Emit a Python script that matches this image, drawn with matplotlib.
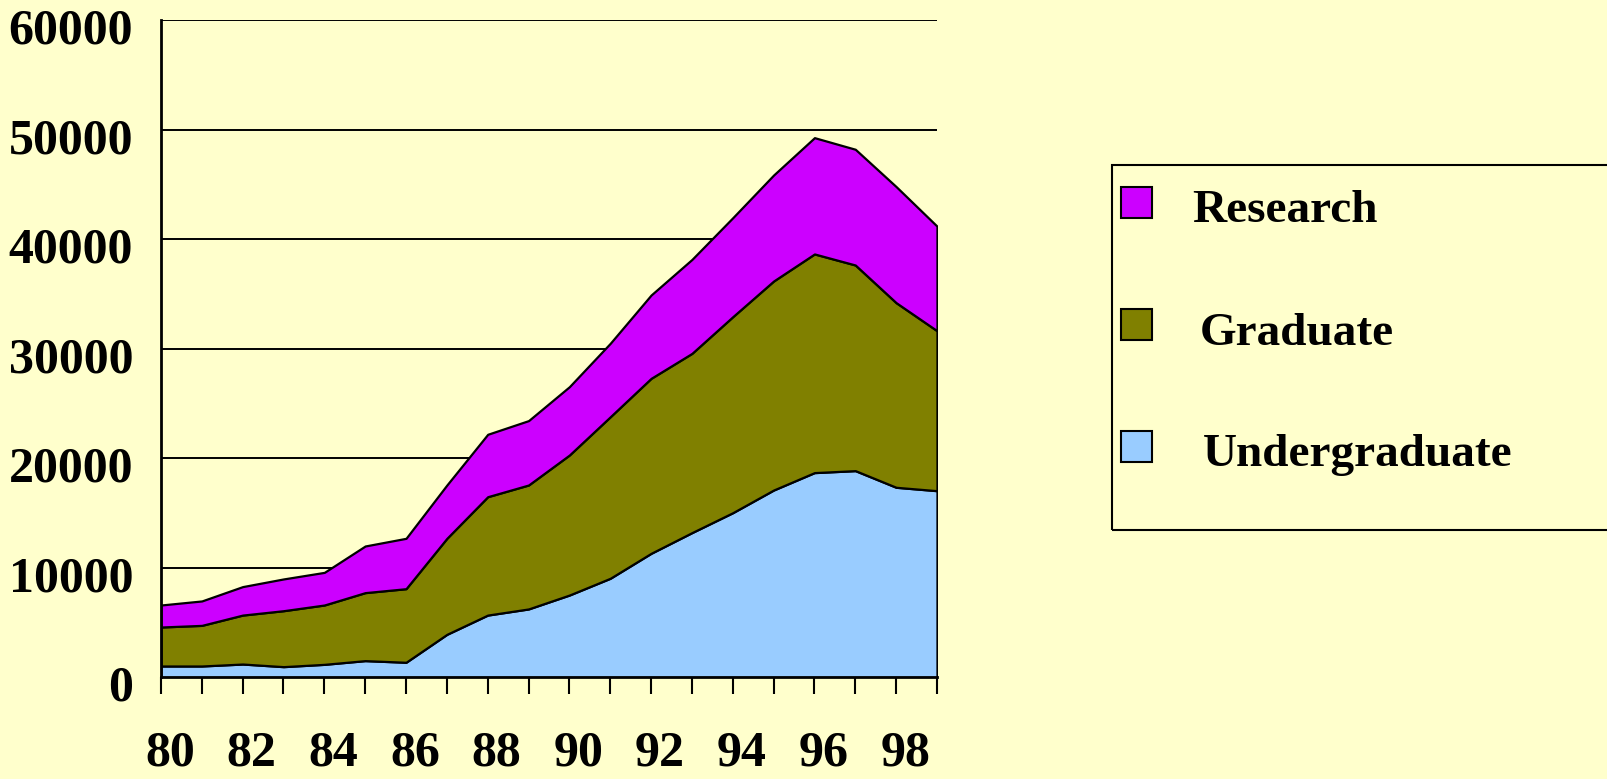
import matplotlib.pyplot as plt
from matplotlib.patches import Rectangle
from matplotlib.transforms import ScaledTranslation

years = list(range(80, 100))
undergraduate = [1050, 1050, 1230, 990, 1200, 1540, 1390, 3940, 5700, 6260,
                 7530, 9060, 11340, 13230, 15050, 17120, 18710, 18890, 17370, 17060]
graduate = [3560, 3710, 4470, 5110, 5420, 6210, 6720, 8770, 10810, 11320,
            12790, 14750, 15980, 16370, 17900, 19090, 19970, 18780, 16860, 14610]
research = [2010, 2230, 2600, 2900, 2980, 4260, 4600, 4870, 5700, 5880,
            6240, 6710, 7610, 8580, 9040, 9680, 10620, 10570, 10600, 9550]
names = ['Research', 'Graduate', 'Undergraduate']
colors = ['#CC00FF', '#808000', '#99CCFF']
xlabels = [str(y) if y % 2 == 0 else '' for y in years]

bg = '#FFFFCC'
font = 'Liberation Serif'

fig = plt.figure(figsize=(16.08, 7.79), dpi=100, facecolor=bg)
ax = fig.add_axes([0.1001, 0.1303, 0.4826, 0.8434], facecolor=bg)

ax.stackplot(years, undergraduate, graduate, research,
             colors=colors[::-1], edgecolor='black', linewidth=1.6, zorder=3)

ax.set_xlim(80, 99)
ax.set_ylim(0, 60000)
ax.set_yticks(range(0, 60001, 10000))
ax.set_xticks(years)
ax.set_xticklabels(xlabels)
ax.yaxis.grid(True, color='black', linewidth=1.4)
ax.set_axisbelow(True)

for s in ['top', 'right']:
    ax.spines[s].set_visible(False)
for s in ['left', 'bottom']:
    ax.spines[s].set_linewidth(2)
    ax.spines[s].set_zorder(4)

ax.tick_params(axis='y', length=0, pad=20)
ax.tick_params(axis='x', direction='out', length=12, width=1.5, pad=26)
# labels in the original sit a little off their ticks
shift_y = ScaledTranslation(0, -6 / 100, fig.dpi_scale_trans)
shift_x = ScaledTranslation(9 / 100, 0, fig.dpi_scale_trans)
for lab in ax.get_yticklabels():
    lab.set_fontfamily(font)
    lab.set_fontweight('bold')
    lab.set_fontsize(36)
    lab.set_transform(lab.get_transform() + shift_y)
for lab in ax.get_xticklabels():
    lab.set_fontfamily(font)
    lab.set_fontweight('bold')
    lab.set_fontsize(36)
    lab.set_transform(lab.get_transform() + shift_x)

# legend box, running off the right edge like the original
W, H = 1608.0, 779.0
fig.add_artist(Rectangle((1112 / W, 1 - 530 / H), 520 / W, 365 / H,
                         transform=fig.transFigure, facecolor='none',
                         edgecolor='black', linewidth=1.5, clip_on=False))
sq_top = [187, 309, 431]
text_x = [1192, 1200, 1203]
baseline = [222, 345, 466]
for i in range(3):
    fig.add_artist(Rectangle((1121 / W, 1 - (sq_top[i] + 31) / H), 31 / W, 31 / H,
                             transform=fig.transFigure, facecolor=colors[i],
                             edgecolor='black', linewidth=1.5))
    fig.text(text_x[i] / W, 1 - baseline[i] / H, names[i], fontfamily=font,
             fontweight='bold', fontsize=34, va='baseline', ha='left')

fig.savefig('out.png', dpi=100, facecolor=bg)
